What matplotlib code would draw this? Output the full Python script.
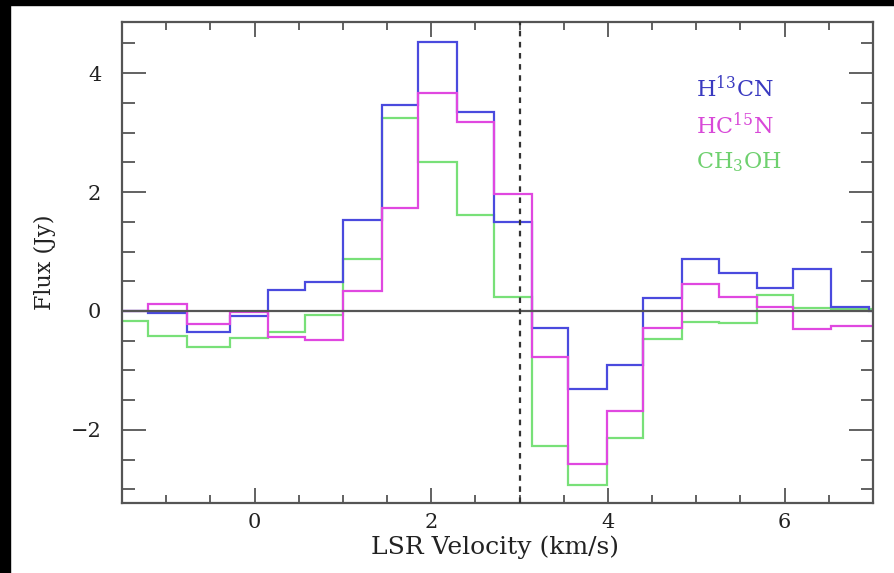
import numpy as np
from matplotlib import pyplot as plt
from matplotlib.patches import Rectangle

# channel edges (km/s) and fluxes (Jy)
edges = [-1.64, -1.21, -0.76, -0.28, 0.15, 0.57, 1.00, 1.44, 1.85, 2.29, 2.71,
         3.14, 3.55, 3.99, 4.40, 4.84, 5.26, 5.69, 6.10, 6.53, 6.95, 7.40]
h13cn = [0.0, -0.03, -0.36, -0.09, 0.35, 0.49, 1.53, 3.46, 4.53, 3.35, 1.50,
         -0.28, -1.32, -0.91, 0.21, 0.87, 0.64, 0.39, 0.71, 0.07, 0.0]
hc15n = [0.0, 0.11, -0.22, -0.02, -0.43, -0.49, 0.33, 1.73, 3.67, 3.18, 1.97,
         -0.78, -2.58, -1.68, -0.29, 0.45, 0.23, 0.07, -0.31, -0.26, -0.26]
ch3oh = [-0.17, -0.42, -0.61, -0.45, -0.36, -0.07, 0.87, 3.24, 2.50, 1.61, 0.24,
         -2.27, -2.92, -2.13, -0.47, -0.18, -0.21, 0.27, 0.05, 0.04, 0.04]
v_sys = 3.0

names = [r'H$^{13}$CN', r'HC$^{15}$N', r'CH$_3$OH']
line_colors = ['#4a4ade', '#e048e0', '#78e078']
text_colors = ['#3a3ac0', '#d848d8', '#6ed06e']

plt.rcParams['font.family'] = 'DejaVu Serif'
plt.rcParams['mathtext.fontset'] = 'dejavuserif'

fig = plt.figure(figsize=(8.94, 5.73), dpi=100)
ax = fig.add_axes([122/894, 1 - 503/573, 751/894, 481/573])

ax.stairs(ch3oh, edges, color=line_colors[2], lw=1.6)
ax.stairs(h13cn, edges, color=line_colors[0], lw=1.6)
ax.stairs(hc15n, edges, color=line_colors[1], lw=1.6)

ax.axhline(0, color='#555555', lw=1.6, zorder=3)
ax.axvline(v_sys, color='#333333', lw=1.6, ls=(0, (2.5, 2.5)), zorder=3)

for i, (name, c) in enumerate(zip(names, text_colors)):
    ax.text(5.0, 3.74 - 0.62*i, name, color=c, fontsize=16, va='center', ha='left')

ax.set_xlim(-1.5, 7.0)
ax.set_ylim(-3.23, 4.86)
ax.set_xticks([0, 2, 4, 6])
ax.set_xticks(np.arange(-1.5, 7.01, 0.5), minor=True)
ax.set_yticks([-2, 0, 2, 4])
ax.set_yticks(np.arange(-3.0, 4.81, 0.5), minor=True)
ax.set_yticklabels(['\u22122', '0', '2', '4'])

for s in ax.spines.values():
    s.set_color('#555555')
    s.set_linewidth(1.6)
ax.tick_params(axis='both', which='both', direction='in', top=True, right=True,
               color='#555555', width=1.3, labelsize=15, labelcolor='#222222')
ax.tick_params(axis='x', which='major', length=11, pad=7)
ax.tick_params(axis='x', which='minor', length=6)
ax.tick_params(axis='y', which='major', length=17, pad=15)
ax.tick_params(axis='y', which='minor', length=9)

ax.set_xlabel('LSR Velocity (km/s)', fontsize=18, color='#222222')
ax.xaxis.set_label_coords(0.497, -0.068)
ax.set_ylabel('Flux (Jy)', fontsize=16, color='#222222')
ax.yaxis.set_label_coords(-0.088, 0.5)

# black frame strips of the original scan
fig.add_artist(Rectangle((0, 0), 10/894, 1, transform=fig.transFigure, color='black'))
fig.add_artist(Rectangle((0, 1 - 5/573), 1, 5/573, transform=fig.transFigure, color='black'))

fig.savefig('out.png', dpi=100)
